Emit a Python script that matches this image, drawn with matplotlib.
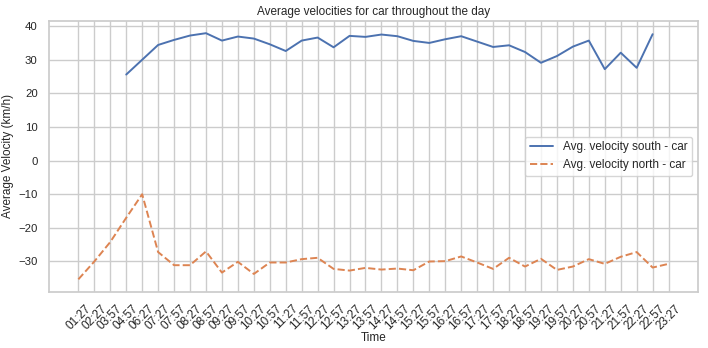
import numpy as np
import matplotlib
matplotlib.use('Agg')
import matplotlib.pyplot as plt
import seaborn as sns

sns.set_theme(style='whitegrid')
plt.rcParams['font.family'] = ['Liberation Sans', 'DejaVu Sans']

times = ['01:27', '02:27', '03:57', '04:57', '06:27', '07:27', '07:57', '08:27',
         '08:57', '09:27', '09:57', '10:27', '10:57', '11:27', '11:57', '12:27',
         '12:57', '13:27', '13:57', '14:27', '14:57', '15:27', '15:57', '16:27',
         '16:57', '17:27', '17:57', '18:27', '18:57', '19:27', '19:57', '20:27',
         '20:57', '21:27', '21:57', '22:27', '22:57', '23:27']

# south has no readings before 04:57 and none at 23:27
south = [np.nan, np.nan, np.nan, 25.6, 30.0, 34.4, 35.9, 37.2,
         37.9, 35.7, 36.9, 36.3, 34.6, 32.6, 35.7, 36.6,
         33.7, 37.1, 36.8, 37.5, 37.0, 35.6, 35.0, 36.1,
         37.0, 35.4, 33.8, 34.3, 32.3, 29.1, 31.1, 33.9,
         35.7, 27.2, 32.1, 27.6, 37.6, np.nan]

north = [-35.3, -30.0, -24.2, -17.0, -10.0, -27.2, -31.1, -31.1,
         -27.0, -33.3, -30.1, -33.7, -30.3, -30.3, -29.3, -28.9,
         -32.2, -32.7, -31.9, -32.4, -32.1, -32.6, -30.0, -29.9,
         -28.5, -30.3, -32.2, -28.9, -31.5, -29.2, -32.5, -31.5,
         -29.3, -30.7, -28.6, -27.2, -31.8, -30.7]

fig, ax = plt.subplots(figsize=(7.08, 3.48), dpi=100)

x = np.arange(len(times))
ax.plot(x, south, label='Avg. velocity south - car', linewidth=1.4)
ax.plot(x, north, '--', label='Avg. velocity north - car', linewidth=1.4)

ax.set_xticks(x)
ax.set_xticklabels(times, rotation=45, fontsize=8.5)
ax.tick_params(axis='both', pad=2)
ax.tick_params(axis='y', labelsize=8.2)
ax.set_xlabel('Time', fontsize=8.5, labelpad=0)
ax.set_ylabel('Average Velocity (km/h)', fontsize=8.5, labelpad=3)
ax.set_title('Average velocities for car throughout the day', fontsize=8.5, pad=4)
ax.legend(loc='center right', fontsize=8.5)

plt.subplots_adjust(left=0.069, right=0.986, top=0.94, bottom=0.162)
plt.savefig('out.png')
